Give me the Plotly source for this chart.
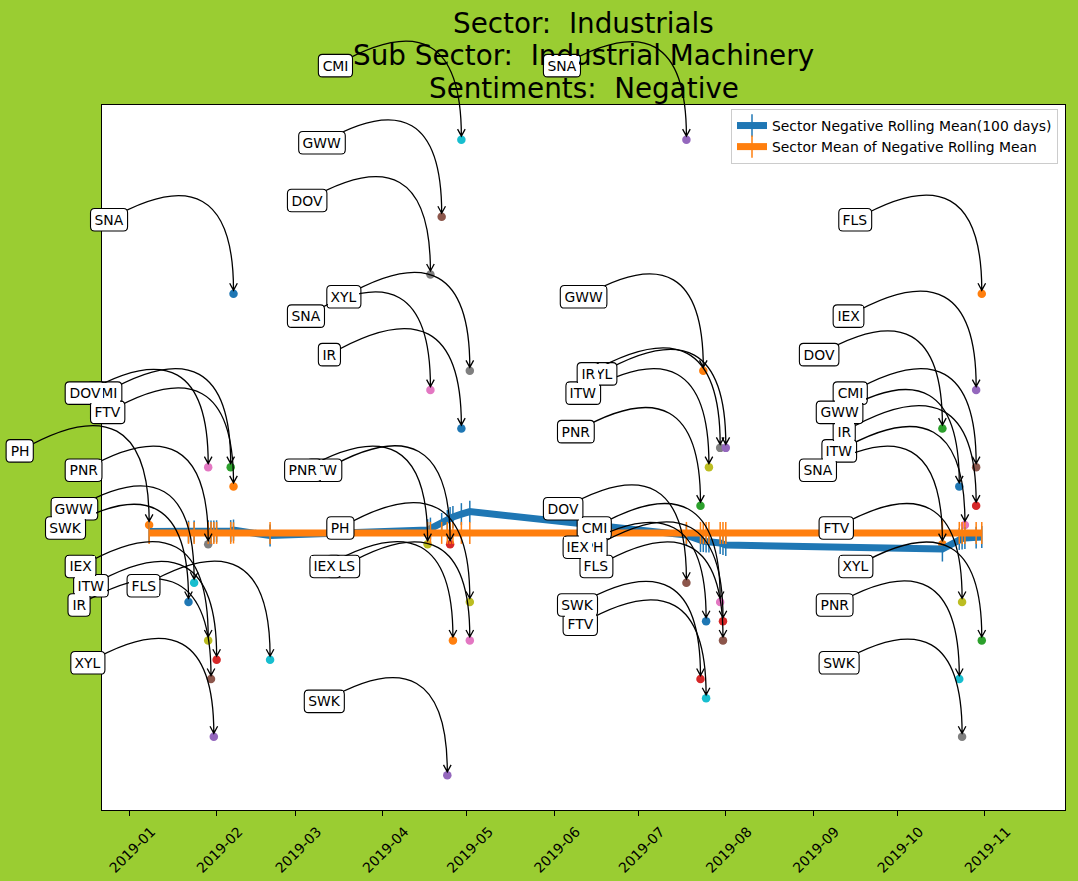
import math
import numpy as np
import pandas as pd
import plotly.graph_objects as go

# ---------------- data ----------------
point_tickers = [
    "SNA", "DOV", "CMI", "FTV", "PH", "PNR", "GWW", "SWK", "IEX", "ITW", "IR", "FLS", "XYL",
    "CMI", "GWW", "DOV", "XYL", "SNA", "IR", "PNR", "ITW", "PH", "IEX", "FLS", "SWK",
    "SNA", "GWW", "IR", "XYL", "ITW", "PNR", "DOV", "CMI", "IEX", "PH", "FLS", "SWK", "FTV",
    "FLS", "IEX", "DOV", "CMI", "GWW", "IR", "ITW", "SNA", "FTV", "XYL", "PNR", "SWK",
]
point_dates = [
    "2019-02-07", "2019-01-29", "2019-02-06", "2019-02-07", "2019-01-08", "2019-01-29", "2019-01-24",
    "2019-01-22", "2019-01-29", "2019-02-01", "2019-01-30", "2019-02-20", "2019-01-31",
    "2019-04-29", "2019-04-22", "2019-04-18", "2019-05-02", "2019-04-18", "2019-04-29", "2019-04-17",
    "2019-04-25", "2019-05-02", "2019-04-26", "2019-05-02", "2019-04-24",
    "2019-07-18", "2019-07-24", "2019-07-30", "2019-08-01", "2019-07-26", "2019-07-23", "2019-07-18",
    "2019-07-30", "2019-07-25", "2019-07-31", "2019-07-31", "2019-07-23", "2019-07-25",
    "2019-10-31", "2019-10-29", "2019-10-17", "2019-10-29", "2019-10-23", "2019-10-29", "2019-10-25",
    "2019-10-17", "2019-10-24", "2019-10-31", "2019-10-23", "2019-10-24",
]
point_counts = [
    28, 19, 19, 18, 16, 15, 13, 12, 10, 9, 8, 9, 5,
    36, 32, 29, 24, 23, 21, 15, 15, 12, 10, 10, 3,
    36, 24, 20, 20, 19, 17, 13, 12, 11, 11, 10, 8, 7,
    28, 23, 21, 19, 18, 17, 16, 15, 12, 10, 8, 5,
]
point_colors = [
    "#1f77b4", "#e377c2", "#2ca02c", "#ff7f0e", "#ff7f0e", "#7f7f7f", "#17becf",
    "#1f77b4", "#bcbd22", "#d62728", "#8c564b", "#17becf", "#9467bd",
    "#17becf", "#8c564b", "#7f7f7f", "#7f7f7f", "#e377c2", "#1f77b4", "#bcbd22",
    "#d62728", "#bcbd22", "#ff7f0e", "#e377c2", "#9467bd",
    "#9467bd", "#ff7f0e", "#7f7f7f", "#9467bd", "#bcbd22", "#2ca02c", "#8c564b",
    "#e377c2", "#1f77b4", "#d62728", "#8c564b", "#d62728", "#17becf",
    "#ff7f0e", "#9467bd", "#2ca02c", "#8c564b", "#1f77b4", "#d62728", "#e377c2",
    "#ff7f0e", "#bcbd22", "#2ca02c", "#17becf", "#7f7f7f",
]
# order in which the ticker labels are stacked (later ones on top)
label_order = ["CMI", "DOV", "FLS", "FTV", "ITW", "PNR", "PH", "XYL", "IR", "GWW", "SWK", "IEX", "SNA"]

line_dates = [
    "2019-01-08", "2019-01-22", "2019-01-24", "2019-01-29", "2019-01-30", "2019-01-31", "2019-02-01",
    "2019-02-06", "2019-02-07", "2019-02-20",
    "2019-04-17", "2019-04-18", "2019-04-22", "2019-04-24", "2019-04-25", "2019-04-26", "2019-04-29",
    "2019-05-02",
    "2019-07-18", "2019-07-23", "2019-07-24", "2019-07-25", "2019-07-26", "2019-07-30", "2019-07-31",
    "2019-08-01",
    "2019-10-17", "2019-10-23", "2019-10-24", "2019-10-25", "2019-10-29", "2019-10-31",
]
rolling_mean = [
    15.66, 15.65, 15.66, 15.67, 15.66, 15.66, 15.67, 15.68, 15.73, 15.45,
    15.73, 15.81, 16.05, 16.20, 16.36, 16.41, 16.56, 16.69,
    15.47, 15.16, 15.16, 15.14, 15.14, 15.06, 15.01, 14.96,
    14.75, 15.27, 15.29, 15.32, 15.34, 15.37,
]
rolling_std = [
    0.57, 0.57, 0.57, 0.57, 0.57, 0.57, 0.57, 0.57, 0.55, 0.57,
    0.57, 0.57, 0.57, 0.57, 0.57, 0.57, 0.57, 0.57,
    0.57, 0.57, 0.57, 0.57, 0.57, 0.57, 0.57, 0.57,
    0.65, 0.57, 0.57, 0.57, 0.57, 0.57,
]
sector_mean = float(np.mean(rolling_mean))

title_lines = ["Sector:\u00a0 Industrials", "Sub Sector:\u00a0 Industrial Machinery", "Sentiments:\u00a0 Negative"]
legend_names = ["Sector Negative Rolling Mean(100 days)", "Sector Mean of Negative Rolling Mean"]

# ---------------- layout geometry ----------------
W_FIG, H_FIG = 1078, 881
ML, MR, MT, MB = 102, 13, 105, 71
PW, PH_ = W_FIG - ML - MR, H_FIG - MT - MB
x_range = ["2018-12-22 06:00", "2019-11-29 14:00"]
y_range = [1.2, 37.8]
FS = 13.9
FONT = "DejaVu Sans"

x0, x1 = pd.Timestamp(x_range[0]), pd.Timestamp(x_range[1])


def xpx(d):
    return ML + (pd.Timestamp(d) - x0) / (x1 - x0) * PW


def ypx(v):
    return MT + (y_range[1] - v) / (y_range[1] - y_range[0]) * PH_


def to_paper(x, y):
    return (x - ML) / PW, (MT + PH_ - y) / PH_


def pp(x, y):
    a, b = to_paper(x, y)
    return f"{a:.5f},{b:.5f}"


char_w = {"A": 0.684, "C": 0.698, "D": 0.770, "E": 0.632, "F": 0.575, "G": 0.775, "H": 0.752,
          "I": 0.295, "K": 0.656, "L": 0.557, "M": 0.863, "N": 0.748, "O": 0.787, "P": 0.603,
          "R": 0.695, "S": 0.635, "T": 0.611, "V": 0.684, "W": 0.989, "X": 0.685, "Y": 0.611}

PAD = 0.3 * FS          # box padding (round boxstyle)
BOX_H = 22.5
DX_LABEL, DY_LABEL = -143, 74

fig = go.Figure()

# scatter points (drawn first, under the lines)
fig.add_trace(go.Scatter(
    x=point_dates, y=point_counts, mode="markers",
    marker=dict(color=point_colors, size=8.5, line=dict(width=0)),
    showlegend=False, hoverinfo="skip",
))

blue, orange = "#1f77b4", "#ff7f0e"
fig.add_trace(go.Scatter(
    x=line_dates, y=rolling_mean, mode="lines",
    line=dict(color=blue, width=7),
    error_y=dict(type="data", array=rolling_std, visible=True, color=blue, thickness=1.5, width=0),
    showlegend=False,
))
fig.add_trace(go.Scatter(
    x=line_dates, y=[sector_mean] * len(line_dates), mode="lines",
    line=dict(color=orange, width=7),
    error_y=dict(type="data", array=rolling_std, visible=True, color=orange, thickness=1.5, width=0),
    showlegend=False,
))
# legend entries (errorbar-like handles)
for name, col in zip(legend_names, [blue, orange]):
    fig.add_trace(go.Scatter(
        x=[None], y=[None], mode="lines+markers", name=name,
        line=dict(color=col, width=7),
        marker=dict(symbol="line-ns", size=18, color=col, line=dict(width=1.5, color=col)),
    ))

shapes = []
annotations = []

# title lines (first, so labels sit on top of them)
title_y_px = [23, 55.5, 88]
for line, ty in zip(title_lines, title_y_px):
    annotations.append(dict(
        x=0.5, y=(MT + PH_ - ty) / PH_, xref="paper", yref="paper", text=line, showarrow=False,
        xanchor="center", yanchor="middle", font=dict(family=FONT, size=27.8, color="black"),
    ))

# labels with rounded boxes and curved arrows
tan30 = math.tan(math.radians(30))
idx = sorted(range(len(point_tickers)), key=lambda i: label_order.index(point_tickers[i]))
for i in idx:
    t, d, v = point_tickers[i], point_dates[i], point_counts[i]
    px, py = xpx(d), ypx(v)
    text_w = sum(char_w.get(c, 0.65) for c in t) * FS
    box_w = text_w + 2 * PAD
    bl = px + DX_LABEL
    br = bl + box_w
    ay = py - DY_LABEL
    bt, bb = ay - BOX_H / 2, ay + BOX_H / 2
    ax = bl + box_w / 2
    # curved connector (angle3, angleA=30, angleB=90)
    cx = px
    cy = ay - (px - ax) * tan30
    bx, by = px, py - 3.5
    dx, dy = bx - cx, by - cy
    n = math.hypot(dx, dy)
    dx, dy = dx / n, dy / n
    hl, hw = 7.0, 3.8
    backx, backy = bx - dx * hl, by - dy * hl
    l1 = (backx - dy * hw, backy + dx * hw)
    l2 = (backx + dy * hw, backy - dx * hw)
    path = (f"M {pp(ax, ay)} Q {pp(cx, cy)} {pp(bx, by)} "
            f"M {pp(*l1)} L {pp(bx, by)} L {pp(*l2)}")
    shapes.append(dict(type="path", path=path, xref="paper", yref="paper",
                       line=dict(color="black", width=1.3), layer="above"))
    # rounded box outline
    r = PAD
    box = (f"M {pp(bl + r, bt)} L {pp(br - r, bt)} Q {pp(br, bt)} {pp(br, bt + r)} "
           f"L {pp(br, bb - r)} Q {pp(br, bb)} {pp(br - r, bb)} "
           f"L {pp(bl + r, bb)} Q {pp(bl, bb)} {pp(bl, bb - r)} "
           f"L {pp(bl, bt + r)} Q {pp(bl, bt)} {pp(bl + r, bt)} Z")
    shapes.append(dict(type="path", path=box, xref="paper", yref="paper",
                       line=dict(color="black", width=1.1), fillcolor="white", layer="above"))
    # text with a white face that hides labels stacked underneath
    annotations.append(dict(
        x=d, y=v, xref="x", yref="y", text=t, showarrow=False,
        xanchor="center", yanchor="middle", xshift=DX_LABEL + box_w / 2, yshift=DY_LABEL,
        width=box_w - 3, height=BOX_H - 3, borderpad=0, borderwidth=0,
        bgcolor="white", align="center", valign="middle",
        font=dict(family=FONT, size=FS, color="black"),
    ))

fig.update_layout(
    width=W_FIG, height=H_FIG, autosize=False,
    margin=dict(l=ML, r=MR, t=MT, b=MB, pad=0),
    paper_bgcolor="#9acd32", plot_bgcolor="white",
    font=dict(family=FONT, size=FS, color="black"),
    xaxis=dict(type="date", range=x_range, dtick="M1", tick0="2019-01-01", tickformat="%Y-%m",
               tickangle=-45, ticks="outside", ticklen=5, tickwidth=1, tickcolor="black",
               showline=True, mirror=True, linecolor="black", linewidth=1, automargin=False,
               showgrid=False, zeroline=False, ticklabelshift=22, ticklabelstandoff=2,
               tickfont=dict(family=FONT, size=FS, color="black")),
    yaxis=dict(range=y_range, showticklabels=False, ticks="", showgrid=False, zeroline=False,
               showline=True, mirror=True, linecolor="black", linewidth=1, automargin=False),
    legend=dict(x=(1058 - ML) / PW, y=(MT + PH_ - 109) / PH_, xanchor="right", yanchor="top",
                bgcolor="rgba(255,255,255,0.85)", bordercolor="#cccccc", borderwidth=1,
                font=dict(family=FONT, size=FS, color="black"), tracegroupgap=0),
    shapes=shapes, annotations=annotations,
    showlegend=True,
)

fig.write_html("out.html")
